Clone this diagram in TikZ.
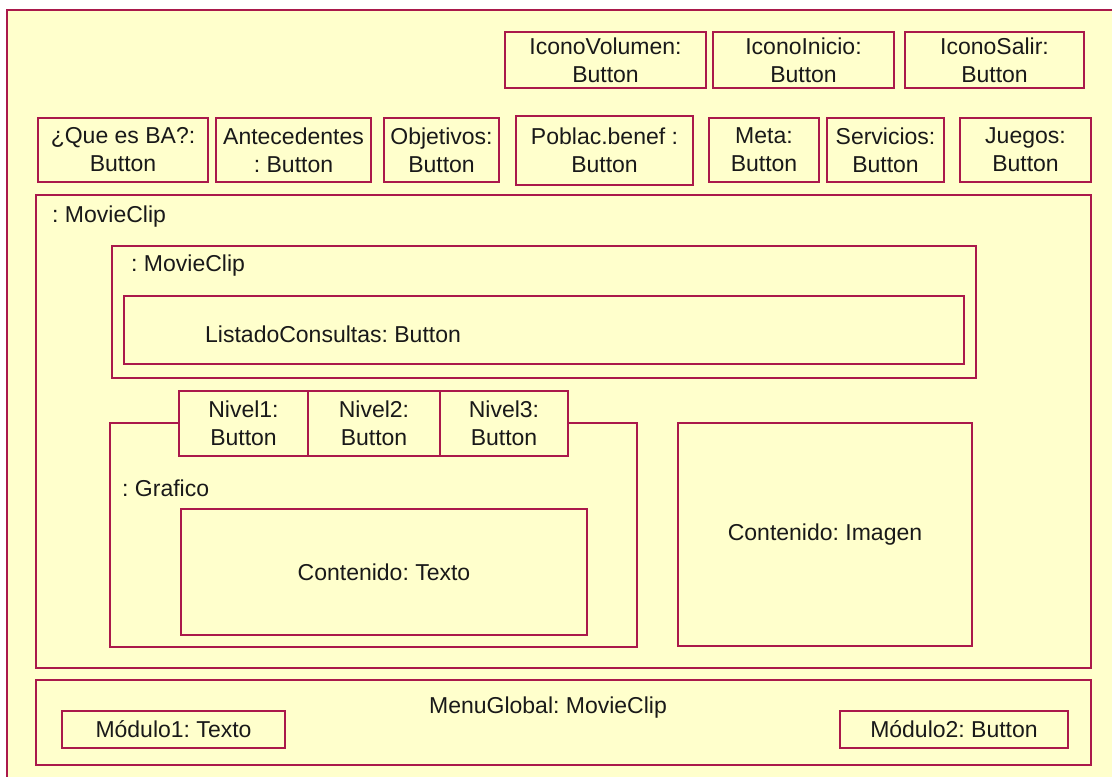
\documentclass[tikz,border=0pt]{standalone}
\usepackage{fontspec}
\setmainfont{Liberation Sans}
\usepackage{xcolor}
\usetikzlibrary{positioning}
\definecolor{umlred}{RGB}{170,25,75}
\definecolor{umlfill}{RGB}{255,255,204}
\frenchspacing

\begin{document}
\begin{tikzpicture}[x=1pt, y=-1pt,
    box/.style={draw=umlred, fill=umlfill, line width=2pt, inner sep=0pt,
        align=center, text=black!90, font=\fontsize{23}{28}\selectfont},
    title/.style={anchor=west, inner sep=0pt, text=black!90,
        font=\fontsize{23}{28}\selectfont}]
    \useasboundingbox (0,0) rectangle (1112,777);
    \clip (0,0) rectangle (1112,777);
    % Outer frame
    \node[box, anchor=north west, minimum width=1130pt, minimum height=800pt] (frame) at (6,9) {};

    % Icon buttons
    \node[box, minimum width=201pt, minimum height=56pt] (volumen) at (605.5,60) {IconoVolumen:\\Button};
    \node[box, minimum width=181pt, minimum height=56pt] (inicio) at (803.5,60) {IconoInicio:\\Button};
    \node[box, minimum width=179pt, minimum height=56pt] (salir) at (994.5,60) {IconoSalir:\\Button};

    % Menu buttons
    \node[box, minimum width=170pt, minimum height=64pt] (quees) at (123,150) {¿Que es BA?:\\Button};
    \node[box, minimum width=155pt, minimum height=64pt] (antec) at (293.5,150) {Antecedentes\\: Button};
    \node[box, minimum width=115pt, minimum height=64pt] (objet) at (441.5,150) {Objetivos:\\Button};
    \node[box, minimum width=177pt, minimum height=69pt] (poblac) at (604.5,150.5) {Poblac.benef :\\Button};
    \node[box, minimum width=110pt, minimum height=64pt] (meta) at (764,150) {Meta:\\Button};
    \node[box, minimum width=117pt, minimum height=64pt] (serv) at (885.5,150) {Servicios:\\Button};
    \node[box, minimum width=131pt, minimum height=64pt] (juegos) at (1025.5,150) {Juegos:\\Button};

    % Main movie clip
    \node[box, minimum width=1055pt, minimum height=473pt] (clip) at (563.5,431.5) {};
    \node[title] (cliplbl) at (52,217) {: MovieClip};
    \node[box, minimum width=864pt, minimum height=132pt] (subclip) at (544,312) {};
    \node[title] (subcliplbl) at (131,266) {: MovieClip};
    \node[box, minimum width=840pt, minimum height=68pt] (listado) at (544,330) {};
    \node[title] (listadolbl) at (205,334) {ListadoConsultas: Button};

    % Grafico with its level buttons
    \node[box, minimum width=527pt, minimum height=224pt] (grafico) at (373.5,535) {};
    \node[title] (graficolbl) at (122,488) {: Grafico};
    \foreach \i/\x/\w in {1/243.5/129, 2/374/132, 3/504/128} {
        \node[box, minimum width=\w pt, minimum height=65pt] (nivel\i) at (\x,423.5) {Nivel\i:\\Button};
    }
    \node[box, minimum width=406pt, minimum height=126pt] (texto) at (384,572) {Contenido: Texto};
    \node[box, minimum width=294pt, minimum height=223pt] (imagen) at (825,534.5) {Contenido: Imagen};

    % Global menu
    \node[box, minimum width=1055pt, minimum height=85pt] (menu) at (563.5,722.5) {};
    \node[inner sep=0pt, text=black!90, font=\fontsize{23}{28}\selectfont] (menulbl) at (548,708) {MenuGlobal: MovieClip};
    \node[box, minimum width=223pt, minimum height=37pt] (modulo1) at (173.5,729.5) {Módulo1: Texto};
    \node[box, minimum width=228pt, minimum height=37pt] (modulo2) at (954,729.5) {Módulo2: Button};
\end{tikzpicture}
\end{document}
